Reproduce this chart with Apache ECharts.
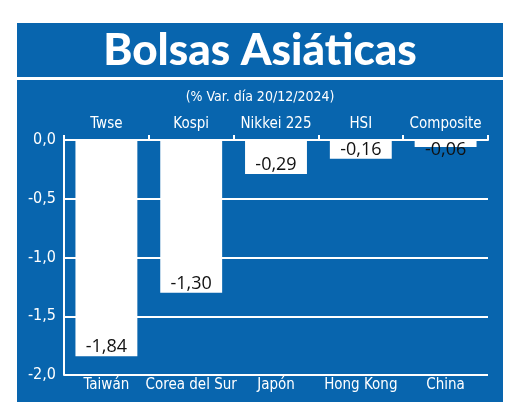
<!DOCTYPE html>
<html>
<head>
<meta charset="utf-8">
<script src="https://cdn.jsdelivr.net/npm/echarts@6/dist/echarts.min.js"></script>
<style>
  html, body { margin: 0; padding: 0; background: #fff; }
  #chart { width: 520px; height: 419px; }
</style>
</head>
<body>
<div id="chart"></div>
<script>
// datos
const indices = ['Twse', 'Kospi', 'Nikkei 225', 'HSI', 'Composite']
const paises = ['Taiwán', 'Corea del Sur', 'Japón', 'Hong Kong', 'China']
const variacion = [-1.84, -1.30, -0.29, -0.16, -0.06]
const yTicks = [0, -0.5, -1.0, -1.5, -2.0]

const azul = '#0865ae'
const fuente = '"Liberation Sans Narrow", "DejaVu Sans Condensed", sans-serif'

const myChart = echarts.init(document.getElementById('chart'))

const fmt = (v) => v.toFixed(2).replace('.', ',')

myChart.setOption({
  backgroundColor: '#fff',
  animation: false,
  graphic: [
    { type: 'rect', shape: { x: 17, y: 23, width: 486, height: 54 }, style: { fill: azul }, z: -10 },
    { type: 'rect', shape: { x: 17, y: 80, width: 486, height: 322 }, style: { fill: azul }, z: -10 },
  ],
  title: [
    {
      text: 'Bolsas Asiáticas',
      left: 'center',
      top: 24,
      textStyle: { color: '#fff', fontSize: 44, fontWeight: 900, fontFamily: 'Lato, sans-serif' },
    },
    {
      text: '(% Var. día 20/12/2024)',
      left: 'center',
      top: 85,
      textStyle: { color: '#fff', fontSize: 14, fontWeight: 'normal', fontFamily: fuente },
    },
  ],
  grid: { left: 64, right: 32, top: 140, bottom: 44 },
  xAxis: [
    {
      type: 'category',
      position: 'top',
      data: indices,
      axisLine: { lineStyle: { color: '#fff', width: 2 } },
      axisTick: { show: true, length: 5, lineStyle: { color: '#fff', width: 2 } },
      axisLabel: { color: '#fff', fontSize: 15, fontFamily: fuente, margin: 8, interval: 0 },
    },
    {
      type: 'category',
      position: 'bottom',
      data: paises,
      axisLine: { show: false },
      axisTick: { show: false },
      axisLabel: { color: '#fff', fontSize: 15, fontFamily: fuente, margin: 3, interval: 0 },
    },
  ],
  yAxis: {
    type: 'value',
    min: yTicks[yTicks.length - 1],
    max: yTicks[0],
    interval: 0.5,
    axisLine: { show: true, lineStyle: { color: '#fff', width: 2 } },
    axisTick: { show: false },
    axisLabel: {
      color: '#fff',
      fontSize: 16,
      fontFamily: fuente,
      margin: 8,
      formatter: (v) => v.toFixed(1).replace('.', ','),
    },
    splitLine: { lineStyle: { color: '#fff', width: 2 } },
  },
  series: [
    {
      type: 'bar',
      xAxisIndex: 0,
      barWidth: '73%',
      data: variacion.map((v) => ({
        value: v,
        label: v > -0.1 ? { position: 'insideTop', distance: 1 } : {},
      })),
      itemStyle: { color: '#fff' },
      label: {
        show: true,
        position: 'insideBottom',
        distance: 0,
        color: '#111',
        fontSize: 18,
        fontFamily: '"Open Sans", sans-serif',
        formatter: (p) => fmt(p.value),
      },
      z: 3,
    },
  ],
})
</script>
</body>
</html>
